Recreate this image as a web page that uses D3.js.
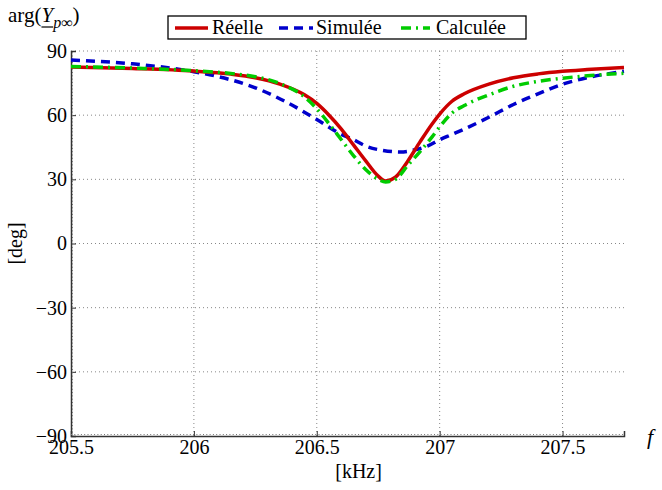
<!DOCTYPE html>
<html>
<head>
<meta charset="utf-8">
<script src="https://cdn.jsdelivr.net/npm/d3@7/dist/d3.min.js"></script>
<style>
  body { margin: 0; background: #fff; }
</style>
</head>
<body>
<div id="chart"></div>
<script>
// frequencies (kHz) where the curves were read
var freqs = [205.5, 205.75, 206.0, 206.15, 206.25, 206.35, 206.45, 206.5, 206.55, 206.6,
  206.65, 206.7, 206.75, 206.78, 206.82, 206.87, 206.92, 206.97, 207.0, 207.05,
  207.1, 207.2, 207.3, 207.4, 207.5, 207.6, 207.75];

var reelle = [82.5, 81.8, 80.6, 79.2, 77.5, 74.5, 69.5, 65.5, 60, 53.5,
  46, 38.5, 31.5, 29.2, 31, 38.5, 47.5, 56, 60.5, 66.5,
  70, 74.5, 77.5, 79.3, 80.5, 81.3, 82.3];

var calculee = [82.8, 82, 80.8, 79.5, 78, 74.8, 68.5, 63, 56, 48.5,
  41, 34.5, 30, 28.8, 30, 36.5, 43, 50, 54.5, 61,
  64.5, 69.5, 73.5, 75.8, 77.3, 78.4, 79.6];

var simFreqs = [205.5, 205.75, 206.0, 206.1, 206.25, 206.37, 206.5, 206.6, 206.65, 206.7,
  206.77, 206.84, 206.9, 206.95, 207.0, 207.05, 207.1, 207.2, 207.3, 207.4,
  207.5, 207.6, 207.75];
var simulee = [85.8, 84, 80.3, 78, 72.8, 66.5, 58, 51, 48.5, 45.5,
  43.5, 42.8, 43.8, 45.5, 48.5, 51, 53.5, 59, 65, 70,
  74.5, 77.5, 80.5];

var xTicks = [205.5, 206, 206.5, 207, 207.5];
var yTicks = [-90, -60, -30, 0, 30, 60, 90];

var W = 662, H = 490;
var margin = { left: 71, right: 38, top: 51, bottom: 54 };
var FONT = "'Liberation Serif', 'DejaVu Serif', 'Times New Roman', serif";

var svg = d3.select("#chart").append("svg")
  .attr("width", W).attr("height", H)
  .style("font-family", FONT);

var x = d3.scaleLinear().domain([205.5, 207.75]).range([margin.left, W - margin.right]);
var y = d3.scaleLinear().domain([-90, 90]).range([H - margin.bottom, margin.top]);

// grid
var grid = svg.append("g");
grid.selectAll("line.vx").data(xTicks.slice(1)).enter().append("line")
  .attr("x1", d => x(d)).attr("x2", d => x(d))
  .attr("y1", y(-90)).attr("y2", y(90))
  .attr("stroke", "#888").attr("stroke-width", 1).attr("stroke-dasharray", "1,3");
grid.selectAll("line.hy").data(yTicks.slice(1)).enter().append("line")
  .attr("x1", x(205.5)).attr("x2", x(207.75))
  .attr("y1", d => y(d)).attr("y2", d => y(d))
  .attr("stroke", "#888").attr("stroke-width", 1).attr("stroke-dasharray", "1,3");

// axes
var xAxis = d3.axisBottom(x).tickValues(xTicks).tickSize(-5).tickPadding(6)
  .tickFormat(d => d3.format("")(d));
var gx = svg.append("g").attr("transform", "translate(0," + y(-90) + ")").call(xAxis);
gx.attr("font-family", null).attr("font-size", null);
gx.select(".domain").attr("stroke", "#333").attr("stroke-width", 1.5);
gx.selectAll(".tick line").attr("stroke", "#333");
gx.selectAll(".tick text").style("font-size", "20px").attr("dy", "0.62em").attr("fill", "#000");

var yAxis = d3.axisLeft(y).tickValues(yTicks).tickSize(-5).tickPadding(4)
  .tickFormat(d => d < 0 ? "\u2212" + Math.abs(d) : d);
var gy = svg.append("g").attr("transform", "translate(" + x(205.5) + ",0)").call(yAxis);
gy.attr("font-family", null).attr("font-size", null);
gy.select(".domain").attr("stroke", "#333").attr("stroke-width", 1.5);
gy.selectAll(".tick line").attr("stroke", "#333");
gy.selectAll(".tick text").style("font-size", "20px").attr("fill", "#000");

// hatching along the axes
svg.append("line")
  .attr("x1", x(205.5) + 1.5).attr("x2", x(205.5) + 1.5)
  .attr("y1", y(-90)).attr("y2", y(90))
  .attr("stroke", "#777").attr("stroke-width", 1).attr("stroke-dasharray", "1,2.3");
svg.append("line")
  .attr("x1", x(205.5)).attr("x2", x(207.75))
  .attr("y1", y(-90) - 1.5).attr("y2", y(-90) - 1.5)
  .attr("stroke", "#777").attr("stroke-width", 1).attr("stroke-dasharray", "1,2.3");

// curves
var line = d3.line().curve(d3.curveMonotoneX)
  .x(d => x(d[0])).y(d => y(d[1]));

var series = [
  { name: "Réelle", f: freqs, v: reelle, color: "#cc0000", dash: null },
  { name: "Simulée", f: simFreqs, v: simulee, color: "#0000cc", dash: "9,6" },
  { name: "Calculée", f: freqs, v: calculee, color: "#00cc00", dash: "10,5,2,5" }
];

[series[1], series[0], series[2]].forEach(function (s) {
  svg.append("path")
    .datum(s.f.map((f, i) => [f, s.v[i]]))
    .attr("d", line)
    .attr("fill", "none")
    .attr("stroke", s.color)
    .attr("stroke-width", 3.5)
    .attr("stroke-dasharray", s.dash);
});

// legend
var lg = svg.append("g");
lg.append("rect").attr("x", 168).attr("y", 16).attr("width", 358).attr("height", 23)
  .attr("fill", "#fff").attr("stroke", "#000").attr("stroke-width", 1.3);
var legendItems = [
  { s: series[0], x0: 175, x1: 208, tx: 212 },
  { s: series[1], x0: 279, x1: 313, tx: 316 },
  { s: series[2], x0: 401, x1: 430, tx: 436 }
];
legendItems.forEach(function (it) {
  lg.append("line").attr("x1", it.x0).attr("x2", it.x1).attr("y1", 28).attr("y2", 28)
    .attr("stroke", it.s.color).attr("stroke-width", 3.5)
    .attr("stroke-dasharray", it.s.dash);
  lg.append("text").attr("x", it.tx).attr("y", 34).style("font-size", "20px").text(it.s.name);
});

// labels
var title = svg.append("text").attr("x", 8).attr("y", 22).style("font-size", "21px");
title.append("tspan").text("arg(");
title.append("tspan").attr("id", "ysym").style("font-style", "italic").text("Y");
title.append("tspan").attr("dy", 6).style("font-size", "16px").style("font-style", "italic").text("p\u221e");
title.append("tspan").attr("dy", -6).text(")");
// underline under Y
var yb = document.getElementById("ysym");
var ext = yb.getExtentOfChar ? yb.getExtentOfChar(0) : null;
var ux0 = ext ? ext.x : 50, uw = ext ? ext.width : 16;
svg.append("line").attr("x1", ux0).attr("x2", ux0 + uw).attr("y1", 27).attr("y2", 27)
  .attr("stroke", "#000").attr("stroke-width", 1.2);

svg.append("text").attr("x", x(206.67)).attr("y", 478).attr("text-anchor", "middle")
  .style("font-size", "20px").text("[kHz]");
svg.append("text").attr("transform", "translate(22," + y(0) + ") rotate(-90)")
  .attr("text-anchor", "middle").style("font-size", "20px").text("[deg]");
svg.append("text").attr("x", 647).attr("y", 444).style("font-size", "22px")
  .style("font-style", "italic").text("f");
</script>
</body>
</html>
